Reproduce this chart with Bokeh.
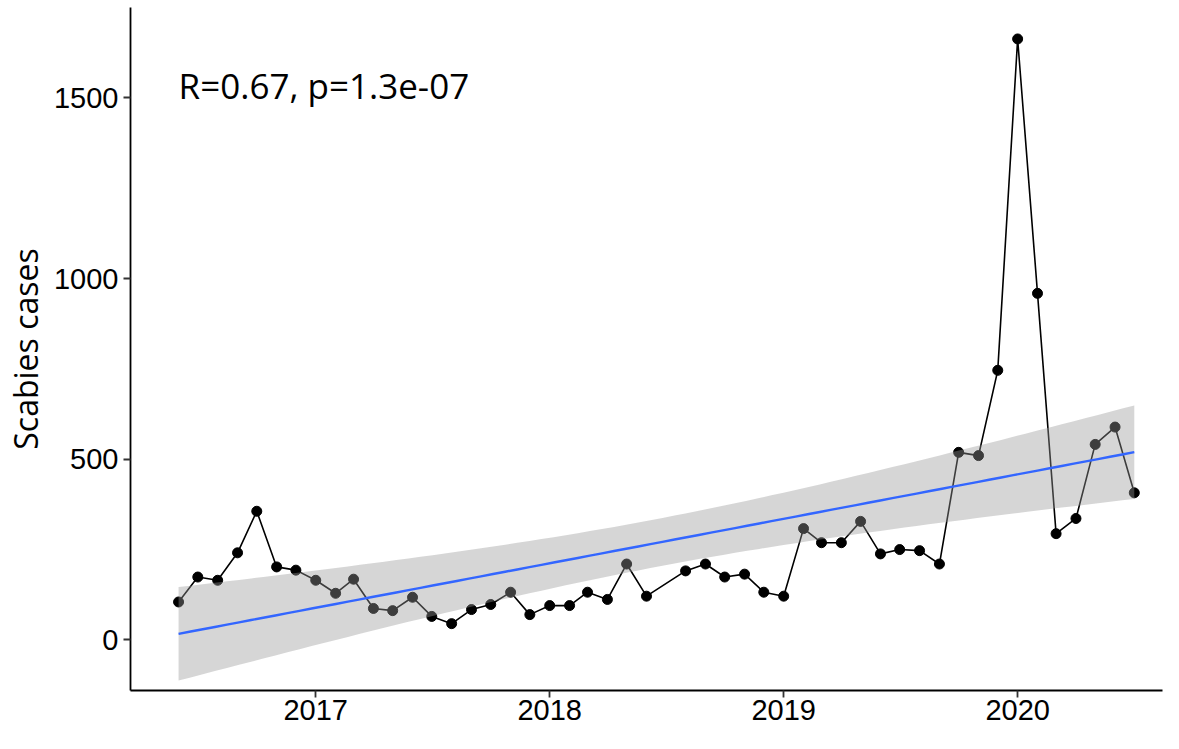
import numpy as np
import pandas as pd
from bokeh.plotting import figure
from bokeh.models import Range1d, FixedTicker, DatetimeTickFormatter, Label, ColumnDataSource
from bokeh.embed import file_html
from bokeh.resources import INLINE

# ---- data (monthly scabies cases; July 2018 missing) ----
months = [
    "2016-06", "2016-07", "2016-08", "2016-09", "2016-10", "2016-11", "2016-12",
    "2017-01", "2017-02", "2017-03", "2017-04", "2017-05", "2017-06",
    "2017-07", "2017-08", "2017-09", "2017-10", "2017-11", "2017-12",
    "2018-01", "2018-02", "2018-03", "2018-04", "2018-05", "2018-06",
    "2018-08", "2018-09", "2018-10", "2018-11", "2018-12",
    "2019-01", "2019-02", "2019-03", "2019-04", "2019-05", "2019-06",
    "2019-07", "2019-08", "2019-09", "2019-10", "2019-11", "2019-12",
    "2020-01", "2020-02", "2020-03", "2020-04", "2020-05", "2020-06", "2020-07",
]
cases = [
    105, 174, 165, 241, 356, 202, 193,
    165, 129, 168, 87, 81, 118,
    65, 45, 84, 98, 132, 70,
    95, 95, 132, 112, 210, 121,
    191, 210, 174, 182, 132,
    121, 308, 269, 269, 328, 238,
    250, 247, 210, 519, 510, 746,
    1663, 959, 294, 336, 541, 589, 407,
]
year_ticks = ["2017", "2018", "2019", "2020"]
y_ticks = [0, 500, 1000, 1500]
annotation = "R=0.67, p=1.3e-07"
t_crit = 2.0117  # t(0.975, df=47)

dates = pd.to_datetime([m + "-01" for m in months])
y = np.array(cases, dtype=float)

# ---- linear fit with 95% confidence band (as geom_smooth(method="lm")) ----
xd = (dates - pd.Timestamp("1970-01-01")).days.values.astype(float)
n = len(xd)
b, a = np.polyfit(xd, y, 1)
resid = y - (a + b * xd)
s = np.sqrt(np.sum(resid ** 2) / (n - 2))
xbar = xd.mean()
sxx = np.sum((xd - xbar) ** 2)
xg = np.linspace(xd.min(), xd.max(), 80)
yg = a + b * xg
se = s * np.sqrt(1.0 / n + (xg - xbar) ** 2 / sxx)
xg_dt = pd.to_datetime(xg, unit="D")

pts = ColumnDataSource(dict(x=dates, y=y))
fit = ColumnDataSource(dict(x=xg_dt, y=yg, lo=yg - t_crit * se, hi=yg + t_crit * se))

def ms(ts):
    return (pd.Timestamp(ts) - pd.Timestamp("1970-01-01")).total_seconds() * 1000.0

x_start = ms("2016-03-18")
x_end = ms("2020-08-14")

p = figure(width=1163, height=733, x_axis_type="datetime",
           output_backend="svg", toolbar_location=None,
           x_range=Range1d(x_start, x_end), y_range=Range1d(-140, 1750),
           min_border_left=122, min_border_right=1, min_border_top=7,
           min_border_bottom=43)

p.line("x", "y", source=pts, line_color="black", line_width=1.6)
p.scatter("x", "y", source=pts, size=10, fill_color="black", line_color="black")
p.varea(x="x", y1="lo", y2="hi", source=fit, fill_color="#999999", fill_alpha=0.4)
p.line("x", "y", source=fit, line_color="#3366FF", line_width=2.4)

p.add_layout(Label(x=dates[0], y=1535, text=annotation, text_align="left",
                   text_baseline="alphabetic", text_font="Open Sans",
                   text_font_size="35px", text_color="black"))

p.xgrid.visible = False
p.ygrid.visible = False
p.outline_line_color = None

p.xaxis.ticker = FixedTicker(ticks=[ms(t + "-01-01") for t in year_ticks])
p.xaxis.formatter = DatetimeTickFormatter(
    years="%Y", months="%Y", days="%Y", hours="%Y", minutes="%Y",
    seconds="%Y", milliseconds="%Y", microseconds="%Y", hourmin="%Y",
    minsec="%Y")
p.yaxis.ticker = FixedTicker(ticks=y_ticks)
p.yaxis.axis_label = "Scabies cases"

for ax in (p.xaxis[0], p.yaxis[0]):
    ax.axis_line_color = "black"
    ax.axis_line_width = 1.8
    ax.major_tick_line_color = "#333333"
    ax.major_tick_line_width = 1.8
    ax.major_tick_out = 7
    ax.major_tick_in = 0
    ax.minor_tick_out = 0
    ax.minor_tick_in = 0
    ax.major_label_text_font = "Liberation Sans"
    ax.major_label_text_font_size = "29px"
    ax.major_label_text_color = "black"

p.xaxis.major_label_standoff = 2
p.xaxis.axis_label_standoff = 0
p.yaxis.major_label_standoff = 5
p.yaxis.axis_label_text_font = "Open Sans"
p.yaxis.axis_label_text_font_size = "32px"
p.yaxis.axis_label_text_font_style = "normal"
p.yaxis.axis_label_text_color = "black"
p.yaxis.axis_label_standoff = 4

open("out.html", "w").write(file_html(p, INLINE))
